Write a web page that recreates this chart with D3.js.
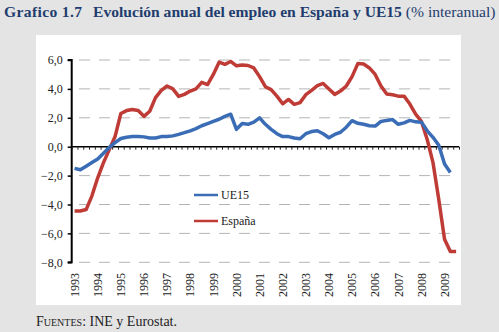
<!DOCTYPE html>
<html>
<head>
<meta charset="utf-8">
<script src="https://cdn.jsdelivr.net/npm/d3@7"></script>
<style>
  body { margin: 0; background: #e4e4e4; }
</style>
</head>
<body>
<script>
// quarterly data, 1993 Q1 ... 2009 Q3
const years = d3.range(1993, 2010)
const quarters = d3.range(67)

const ue15 = [
  -1.5, -1.6, -1.35, -1.1, -0.85, -0.45, -0.05, 0.28, 0.57, 0.65, 0.7, 0.7,
  0.68, 0.6, 0.6, 0.7, 0.7, 0.75, 0.85, 0.97, 1.1, 1.25, 1.45, 1.6,
  1.75, 1.9, 2.1, 2.25, 1.2, 1.6, 1.55, 1.7, 2.0, 1.55, 1.2, 0.9,
  0.7, 0.7, 0.6, 0.55, 0.9, 1.05, 1.1, 0.9, 0.62, 0.85, 1.0, 1.35,
  1.8, 1.62, 1.55, 1.45, 1.43, 1.75, 1.82, 1.88, 1.55, 1.65, 1.82, 1.72,
  1.7, 1.1, 0.65, 0.1, -1.2, -1.78
]

const espana = [
  -4.45, -4.45, -4.35, -3.4, -2.15, -1.1, -0.2, 0.7, 2.3, 2.5, 2.58, 2.5,
  2.1, 2.45, 3.4, 3.9, 4.2, 4.0, 3.48, 3.62, 3.85, 4.0, 4.45, 4.3,
  5.0, 5.85, 5.7, 5.9, 5.6, 5.65, 5.62, 5.45, 4.85, 4.15, 3.95, 3.5,
  2.97, 3.27, 2.93, 3.05, 3.6, 3.9, 4.22, 4.38, 4.0, 3.62, 3.85, 4.2,
  4.85, 5.75, 5.72, 5.45, 5.0, 4.2, 3.65, 3.6, 3.5, 3.5, 2.95, 2.25,
  1.75, 0.5, -1.1, -3.65, -6.4, -7.25, -7.25
]

const yTicks = [-8, -6, -4, -2, 0, 2, 4, 6]
const seriesNames = ['UE15', 'España']
const colors = ['#3a6db6', '#bf3b36']

const serif = '"Liberation Serif", "Times New Roman", serif'

const w = 499
const h = 332

const svg = d3.select('body')
  .append('svg')
  .attr('width', w)
  .attr('height', h)
  .attr('font-family', serif)

// white panel
svg.append('rect')
  .attr('x', 36)
  .attr('y', 35)
  .attr('width', 425)
  .attr('height', 270)
  .attr('fill', 'white')

// title
const title = svg.append('text')
  .attr('y', 17)
  .style('font-family', serif)
  .style('font-size', '15.6px')
  .style('fill', '#1f3d6e')
title.append('tspan').attr('x', 4).attr('textLength', 78)
  .style('font-weight', 'bold').text('Grafico 1.7')
title.append('tspan').attr('x', 93).style('font-weight', 'bold')
  .text('Evolución anual del empleo en España y UE15')
title.append('tspan').text(' (% interanual)')

// scales
const xScale = d3.scaleBand()
  .domain(quarters)
  .range([71.7, 459])
  .padding(0)

const yScale = d3.scaleLinear()
  .domain([-8, 6])
  .range([262.3, 60])

const xc = i => xScale(i) + xScale.bandwidth() / 2

// dashed grid
svg.append('g')
  .selectAll('line')
  .data(yTicks.filter(d => d !== 0))
  .enter()
  .append('line')
  .attr('x1', 79)
  .attr('x2', 459)
  .attr('y1', d => yScale(d))
  .attr('y2', d => yScale(d))
  .style('stroke', '#b4b4b4')
  .style('stroke-width', 1)
  .style('stroke-dasharray', '11,9')

// y axis
const yAxis = d3.axisLeft(yScale)
  .tickValues(yTicks)
  .tickSize(4)
  .tickPadding(5)
  .tickFormat(d => d3.format('.1f')(d).replace('.', ','))

const yAxisG = svg.append('g')
  .attr('transform', 'translate(71.7,0)')
  .call(yAxis)
  .attr('font-family', serif)
yAxisG.select('.domain').style('stroke', 'black').style('stroke-width', 2)
  .attr('d', `M-4,${yScale(6)}H0V${yScale(-8)}H-4`)
yAxisG.selectAll('.tick line').style('stroke', 'black').style('stroke-width', 1.5)
yAxisG.selectAll('.tick text')
  .style('font-size', '12px')
  .style('fill', '#222')
  .style('font-family', serif)

// zero line with quarter ticks
const zeroAxis = d3.axisBottom(d3.scaleLinear().domain([0, 67]).range([71.7, 459]))
  .tickValues(d3.range(0, 68))
  .tickSize(3)
  .tickFormat('')
const zeroG = svg.append('g')
  .attr('transform', `translate(0,${yScale(0)})`)
  .call(zeroAxis)
zeroG.select('.domain').style('stroke', 'black').style('stroke-width', 1.5)
  .attr('d', `M71.7,0H459`)
zeroG.selectAll('.tick line').style('stroke', '#222').style('stroke-width', 1)

// year labels
svg.append('g')
  .selectAll('text')
  .data(years)
  .enter()
  .append('text')
  .attr('transform', d => `translate(${xc((d - 1993) * 4)},273) rotate(-90)`)
  .attr('text-anchor', 'end')
  .attr('dy', '0.35em')
  .style('font-family', serif)
  .style('font-size', '12px')
  .style('fill', '#222')
  .text(d => d)

// lines
const line = d3.line()
  .x((d, i) => xc(i))
  .y(d => yScale(d))

svg.append('path')
  .datum(espana)
  .attr('d', line)
  .style('fill', 'none')
  .style('stroke', colors[1])
  .style('stroke-width', 3.5)
  .style('stroke-linejoin', 'round')

svg.append('path')
  .datum(ue15)
  .attr('d', line)
  .style('fill', 'none')
  .style('stroke', colors[0])
  .style('stroke-width', 3.5)
  .style('stroke-linejoin', 'round')

// legend
const legend = svg.append('g')
  .selectAll('g')
  .data(seriesNames)
  .enter()
  .append('g')
  .attr('transform', (d, i) => `translate(194,${195 + i * 26})`)

legend.append('line')
  .attr('x1', 0)
  .attr('x2', 24)
  .style('stroke', (d, i) => colors[i])
  .style('stroke-width', 2.5)

legend.append('text')
  .attr('x', 27)
  .attr('y', 4)
  .style('font-family', serif)
  .style('font-size', '12px')
  .style('fill', '#222')
  .text(d => d)

// source
const src = svg.append('text')
  .attr('x', 36)
  .attr('y', 326)
  .style('font-family', serif)
  .style('font-size', '14px')
  .style('fill', '#222')
src.append('tspan').style('font-variant', 'small-caps').text('Fuentes')
src.append('tspan').text(': INE y Eurostat.')
</script>
</body>
</html>
